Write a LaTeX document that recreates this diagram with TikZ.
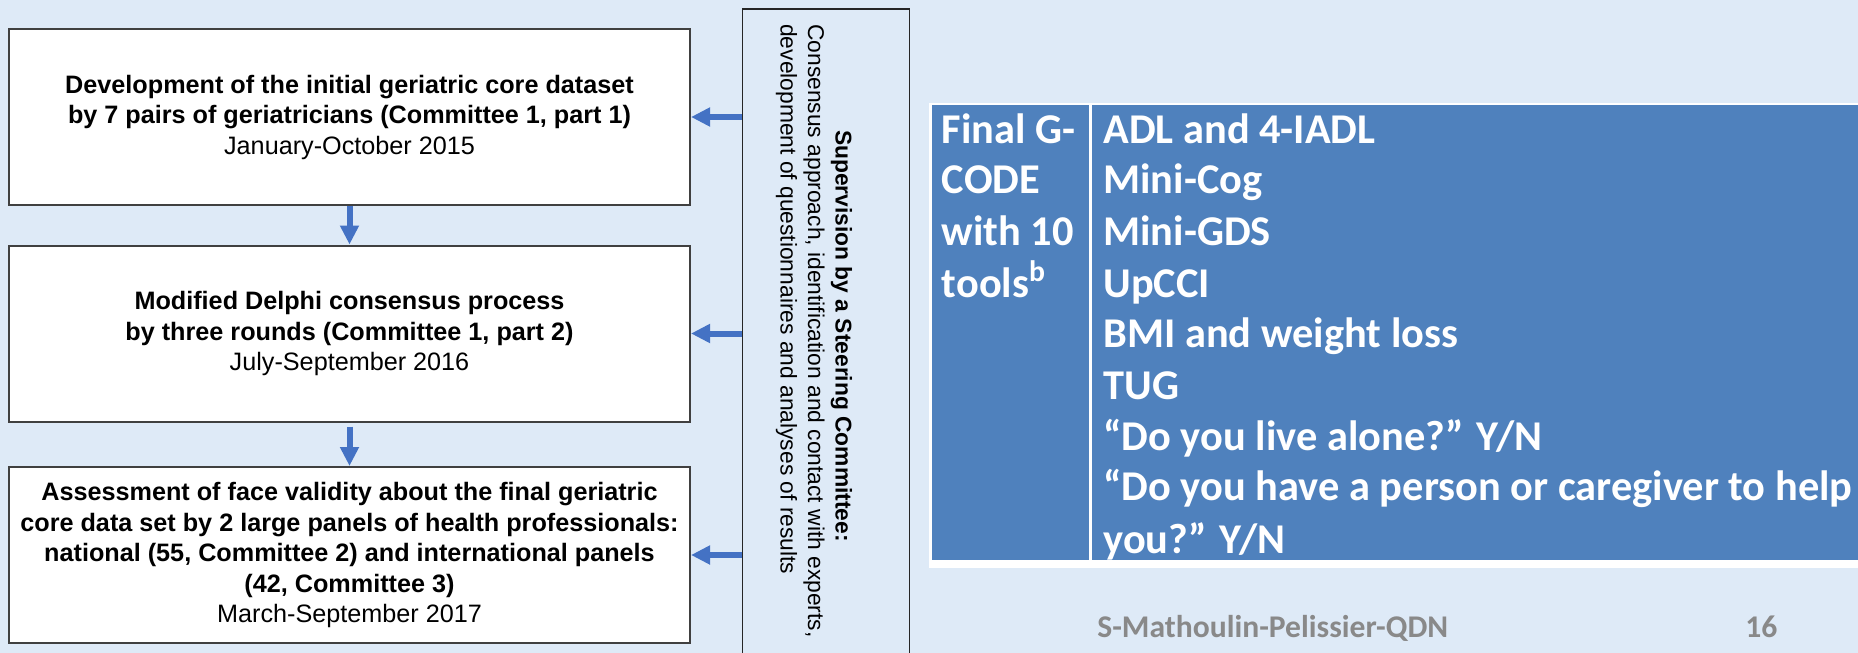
\documentclass[tikz,border=0pt]{standalone}
\usepackage{fontspec}
\setmainfont{Liberation Sans}
\newfontfamily\calibri{Carlito}
\usepackage{tikz}
\usetikzlibrary{arrows.meta}

\definecolor{bgblue}{HTML}{DEEAF7}
\definecolor{arrblue}{HTML}{4472C4}
\definecolor{tblblue}{HTML}{4F81BD}
\definecolor{boxgray}{HTML}{404040}
\definecolor{footgray}{HTML}{898989}

\tikzset{
    stepbox/.style={draw=boxgray, line width=1pt, fill=white, align=center,
        minimum width=340.5pt, minimum height=88pt, inner sep=0pt,
        font=\fontsize{12.6}{15.25}\selectfont},
    flow/.style={draw=arrblue, line width=3pt, -{Triangle[width=9pt,length=9.5pt]}},
    cell/.style={anchor=base west, inner sep=0pt, text=white,
        font=\calibri\bfseries\fontsize{21.2}{25.5}\selectfont},
    foot/.style={anchor=base west, inner sep=0pt, text=footgray,
        font=\calibri\bfseries\fontsize{15.8}{19}\selectfont}
}

\begin{document}
\begin{tikzpicture}[x=0.5pt,y=-0.5pt]
        \useasboundingbox (0,0) rectangle (1858,653);
        \fill[bgblue] (0,0) rectangle (1858,653);

        % the three steps
        \node[stepbox] (dev) at (349.5,117) {\textbf{Development of the initial geriatric core dataset}\\
            \textbf{by 7 pairs of geriatricians (Committee 1, part 1)}\\January-October 2015};
        \node[stepbox] (delphi) at (349.5,333.5) {\textbf{Modified Delphi consensus process}\\
            \textbf{by three rounds (Committee 1, part 2)}\\July-September 2016};
        \node[stepbox] (face) at (349.5,555) {\textbf{Assessment of face validity about the final geriatric}\\
            \textbf{core data set by 2 large panels of health professionals:}\\
            \textbf{national (55, Committee 2) and international panels}\\
            \textbf{(42, Committee 3)}\\March-September 2017};

        % steering committee
        \node[draw=black!85, line width=0.75pt, fill=bgblue, minimum width=83.5pt,
            minimum height=326pt, inner sep=0pt] (steer) at (826,335) {};
        \node[rotate=-90, inner sep=0pt, font=\fontsize{11.4}{13.75}\selectfont] (steertext) at (813.5,331)
            {\begin{tabular}{@{}l@{}}\multicolumn{1}{@{}c@{}}{\hspace*{5pt}\bfseries Supervision by a Steering Committee:}\\
            Consensus approach, identification and contact with experts,\\
            development of questionnaires and analyses of results\end{tabular}};

        \draw[flow] (steer.west |- dev.east) -- (dev.east);
        \draw[flow] (steer.west |- delphi.east) -- (delphi.east);
        \draw[flow] (steer.west |- face.east) -- (face.east);
        \draw[flow] (dev.south) -- (delphi.north);
        \draw[flow, shorten <=2pt] (delphi.south) -- (face.north);

        % final tools table
        \fill[white] (929,102.7) rectangle (1870,568);
        \fill[tblblue] (931.7,105) rectangle (1870,560);
        \draw[white, line width=1.2pt] (1090.5,105) -- (1090.5,560);

        \node[cell] (l1) at (941.5,143) {Final G-};
        \node[cell] (l2) at (941.5,193) {CODE};
        \node[cell] (l3) at (941.5,245) {with 10};
        \node[cell] (l4) at (941.5,297) {tools\textsuperscript{b}};

        \node[cell] (t1) at (1103,143) {ADL and 4-IADL};
        \node[cell] (t2) at (1103,193) {Mini-Cog};
        \node[cell] (t3) at (1103,245) {Mini-GDS};
        \node[cell] (t4) at (1103,297) {UpCCI};
        \node[cell] (t5) at (1103,347) {BMI and weight loss};
        \node[cell] (t6) at (1103,399) {TUG};
        \node[cell] (t7) at (1103,450) {“Do you live alone?” Y/N};
        \node[cell] (t8) at (1103,500) {“Do you have a person or caregiver to help};
        \node[cell] (t9) at (1103,553) {you?” Y/N};

        % footer
        \node[foot] (author) at (1097,637) {S-Mathoulin-Pelissier-QDN};
        \node[foot] (page) at (1745,637) {16};
\end{tikzpicture}
\end{document}
